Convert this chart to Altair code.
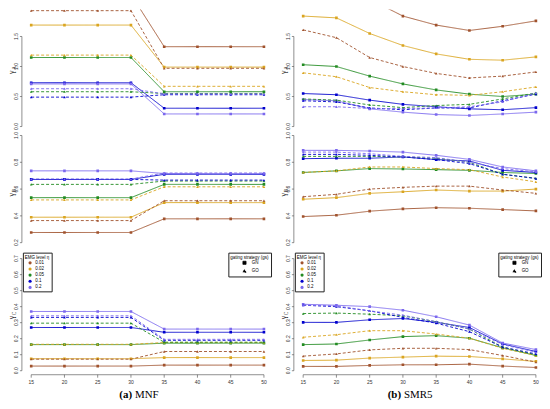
import altair as alt
import pandas as pd

X = [15, 20, 25, 30, 35, 40, 45, 50]
LEVELS = ["0.01", "0.02", "0.05", "0.1", "0.2"]
LEVEL_COLORS = ["#a0522d", "#daa520", "#228b22", "#0000cd", "#7b68ee"]
STRATEGIES = ["GN", "GO"]

# ---- (a) MNF ----  rows: EMG level 0.01, 0.02, 0.05, 0.1, 0.2
MNF_A_GN = [
    [2.20, 2.20, 2.20, 2.20, 1.33, 1.33, 1.33, 1.33],
    [1.69, 1.69, 1.69, 1.69, 0.99, 0.99, 0.99, 0.99],
    [1.15, 1.15, 1.15, 1.15, 0.58, 0.58, 0.58, 0.58],
    [0.73, 0.73, 0.73, 0.73, 0.305, 0.305, 0.305, 0.305],
    [0.71, 0.71, 0.71, 0.71, 0.21, 0.21, 0.21, 0.21],
]
MNF_A_GO = [
    [1.93, 1.93, 1.93, 1.93, 0.97, 0.97, 0.97, 0.97],
    [1.19, 1.19, 1.19, 1.19, 0.67, 0.67, 0.67, 0.67],
    [0.58, 0.58, 0.58, 0.58, 0.55, 0.55, 0.55, 0.55],
    [0.49, 0.49, 0.49, 0.49, 0.53, 0.53, 0.53, 0.53],
    [0.63, 0.63, 0.63, 0.63, 0.545, 0.545, 0.545, 0.545],
]
MNF_B_GN = [
    [0.276, 0.276, 0.276, 0.276, 0.378, 0.378, 0.378, 0.378],
    [0.39, 0.39, 0.39, 0.39, 0.499, 0.499, 0.499, 0.499],
    [0.536, 0.536, 0.536, 0.536, 0.635, 0.635, 0.635, 0.635],
    [0.672, 0.672, 0.672, 0.672, 0.71, 0.71, 0.71, 0.71],
    [0.736, 0.736, 0.736, 0.736, 0.716, 0.716, 0.716, 0.716],
]
MNF_B_GO = [
    [0.365, 0.365, 0.365, 0.365, 0.513, 0.513, 0.513, 0.513],
    [0.519, 0.519, 0.519, 0.519, 0.617, 0.617, 0.617, 0.617],
    [0.635, 0.635, 0.635, 0.635, 0.66, 0.66, 0.66, 0.66],
    [0.672, 0.672, 0.672, 0.672, 0.667, 0.667, 0.667, 0.667],
    [0.675, 0.675, 0.675, 0.675, 0.72, 0.72, 0.72, 0.72],
]
MNF_C_GN = [
    [0.029, 0.029, 0.029, 0.029, 0.035, 0.035, 0.035, 0.035],
    [0.075, 0.075, 0.075, 0.075, 0.082, 0.082, 0.082, 0.082],
    [0.163, 0.163, 0.163, 0.163, 0.172, 0.172, 0.172, 0.172],
    [0.27, 0.27, 0.27, 0.27, 0.24, 0.24, 0.24, 0.24],
    [0.37, 0.37, 0.37, 0.37, 0.26, 0.26, 0.26, 0.26],
]
MNF_C_GO = [
    [0.072, 0.072, 0.072, 0.072, 0.12, 0.12, 0.12, 0.12],
    [0.165, 0.165, 0.165, 0.165, 0.176, 0.176, 0.176, 0.176],
    [0.297, 0.297, 0.297, 0.297, 0.178, 0.178, 0.178, 0.178],
    [0.333, 0.333, 0.333, 0.333, 0.19, 0.19, 0.19, 0.19],
    [0.343, 0.343, 0.343, 0.343, 0.196, 0.196, 0.196, 0.196],
]

# ---- (b) SMR5 ----
SMR_A_GN = [
    [2.45, 2.30, 2.12, 1.84, 1.69, 1.60, 1.67, 1.76],
    [1.84, 1.81, 1.55, 1.35, 1.21, 1.12, 1.105, 1.16],
    [1.03, 1.00, 0.84, 0.71, 0.61, 0.54, 0.50, 0.54],
    [0.55, 0.53, 0.44, 0.37, 0.33, 0.295, 0.28, 0.315],
    [0.45, 0.43, 0.295, 0.24, 0.20, 0.185, 0.21, 0.24],
]
SMR_A_GO = [
    [1.61, 1.48, 1.15, 1.00, 0.885, 0.81, 0.84, 0.91],
    [0.895, 0.83, 0.65, 0.58, 0.53, 0.52, 0.58, 0.66],
    [0.46, 0.44, 0.36, 0.315, 0.35, 0.37, 0.46, 0.56],
    [0.43, 0.41, 0.31, 0.28, 0.31, 0.31, 0.43, 0.54],
    [0.33, 0.33, 0.30, 0.30, 0.31, 0.33, 0.41, 0.56],
]
SMR_B_GN = [
    [0.395, 0.405, 0.435, 0.452, 0.461, 0.457, 0.447, 0.437],
    [0.524, 0.536, 0.568, 0.58, 0.593, 0.585, 0.585, 0.60],
    [0.724, 0.736, 0.753, 0.75, 0.745, 0.74, 0.724, 0.716],
    [0.827, 0.83, 0.83, 0.84, 0.82, 0.81, 0.74, 0.724],
    [0.889, 0.889, 0.884, 0.876, 0.852, 0.822, 0.765, 0.736],
]
SMR_B_GO = [
    [0.543, 0.561, 0.60, 0.613, 0.622, 0.622, 0.593, 0.568],
    [0.724, 0.736, 0.765, 0.765, 0.753, 0.745, 0.69, 0.654],
    [0.844, 0.844, 0.844, 0.84, 0.83, 0.80, 0.71, 0.68],
    [0.859, 0.859, 0.852, 0.84, 0.82, 0.79, 0.711, 0.679],
    [0.876, 0.876, 0.864, 0.844, 0.835, 0.80, 0.753, 0.728],
]
SMR_C_GN = [
    [0.027, 0.027, 0.033, 0.037, 0.037, 0.041, 0.029, 0.020],
    [0.064, 0.066, 0.079, 0.085, 0.091, 0.089, 0.074, 0.058],
    [0.163, 0.167, 0.192, 0.213, 0.219, 0.203, 0.143, 0.095],
    [0.302, 0.302, 0.318, 0.326, 0.302, 0.27, 0.167, 0.12],
    [0.415, 0.409, 0.40, 0.378, 0.337, 0.285, 0.173, 0.132],
]
SMR_C_GO = [
    [0.091, 0.105, 0.13, 0.14, 0.14, 0.132, 0.095, 0.054],
    [0.209, 0.225, 0.25, 0.25, 0.229, 0.203, 0.14, 0.095],
    [0.357, 0.36, 0.353, 0.343, 0.306, 0.26, 0.147, 0.10],
    [0.409, 0.40, 0.374, 0.333, 0.297, 0.244, 0.147, 0.105],
    [0.409, 0.405, 0.374, 0.347, 0.306, 0.26, 0.163, 0.116],
]

Y_SUBSCRIPTS = {"A": "A", "B": "B", "C": "C"}
Y_TICKS = {
    "A": [0.0, 0.5, 1.0, 1.5],
    "B": [0.2, 0.4, 0.6, 0.8, 1.0],
    "C": [0.0, 0.1, 0.2, 0.3, 0.4, 0.5, 0.6, 0.7],
}
Y_DOMAIN = {"A": [-0.05, 1.95], "B": [0.133, 1.022], "C": [-0.025, 0.725]}
X_DOMAIN = [13.6, 50.32]
PANEL_H = {"A": 121, "B": 120, "C": 121}
PANEL_W = 246

PANELS = [
    ("MNF", "A", MNF_A_GN, MNF_A_GO),
    ("SMR5", "A", SMR_A_GN, SMR_A_GO),
    ("MNF", "B", MNF_B_GN, MNF_B_GO),
    ("SMR5", "B", SMR_B_GN, SMR_B_GO),
    ("MNF", "C", MNF_C_GN, MNF_C_GO),
    ("SMR5", "C", SMR_C_GN, SMR_C_GO),
]
CAPTIONS = {"MNF": ("(a)", "MNF", 111, 114), "SMR5": ("(b)", "SMR5", 108, 111)}

rows = []
for method, metric, gn, go in PANELS:
    for gs, block in (("GN", gn), ("GO", go)):
        for lvl, series in zip(LEVELS, block):
            for xv, v in zip(X, series):
                rows.append(dict(method=method, metric=metric, gs=gs,
                                 level=lvl, x=xv, value=v))
df = pd.DataFrame(rows)
one = pd.DataFrame({"k": [0]})
xticks_df = pd.DataFrame({"t": X, "lab": [str(v) for v in X]})

AXIS_GREY = "#444444"
LABEL_GREY = "#333333"
SANS = "Liberation Sans"
SERIF = "Liberation Serif"

# invisible axes: the R-style axes are drawn with marks below
HIDDEN_AXIS = alt.Axis(labels=False, ticks=False, domain=False, grid=False,
                       title=None)


def panel(method, metric):
    bottom = metric == "C"
    d = df[(df.method == method) & (df.metric == metric)]
    h = PANEL_H[metric]
    xs = alt.Scale(domain=X_DOMAIN, nice=False, zero=False)
    ys = alt.Scale(domain=Y_DOMAIN[metric], nice=False, zero=False)
    cscale = alt.Scale(domain=LEVELS, range=LEVEL_COLORS)
    if bottom:
        legend_x = 206 if method == "SMR5" else 208
        clegend = alt.Legend(title="EMG level η", orient="none", legendX=1,
                             legendY=-2, symbolType="circle", symbolSize=10,
                             symbolStrokeWidth=0, labelFontSize=4.5,
                             labelFont=SANS, titleFont=SANS, titleFontSize=4.5,
                             titleFontWeight="normal", strokeColor="#222222",
                             fillColor="white", padding=2, rowPadding=1.2,
                             titlePadding=1.5, labelOffset=3, symbolOffset=3)
        slegend = alt.Legend(title="gating strategy (gs)", orient="none",
                             legendX=legend_x, legendY=-2, symbolSize=10,
                             symbolFillColor="black", symbolStrokeColor="black",
                             symbolStrokeWidth=0.8, labelFontSize=4.5,
                             labelFont=SANS, titleFont=SANS, titleFontSize=4.5,
                             titleFontWeight="normal", strokeColor="#222222",
                             fillColor="white", padding=2, rowPadding=1.2,
                             titlePadding=1.5, labelOffset=5, symbolOffset=12)
    else:
        clegend = None
        slegend = None

    base = alt.Chart(d)
    enc_x = alt.X("x:Q", scale=xs, axis=HIDDEN_AXIS)
    enc_y = alt.Y("value:Q", scale=ys, axis=HIDDEN_AXIS)
    lines = base.mark_line(strokeWidth=0.9, clip=True).encode(
        x=enc_x, y=enc_y,
        color=alt.Color("level:N", scale=cscale, legend=clegend),
        strokeDash=alt.StrokeDash("gs:N", scale=alt.Scale(
            domain=STRATEGIES, range=[[1, 0], [3, 2]]), legend=slegend),
    )
    pts = base.mark_point(filled=True, size=7, opacity=1, clip=True).encode(
        x=enc_x, y=enc_y,
        color=alt.Color("level:N", scale=cscale, legend=clegend),
        shape=alt.Shape("gs:N", scale=alt.Scale(
            domain=STRATEGIES, range=["square", "triangle-up"]), legend=slegend),
    )

    # R-style y axis: line between first and last tick, small ticks, rotated labels
    yt = pd.DataFrame({"t": Y_TICKS[metric],
                       "lab": [f"{t:.1f}" for t in Y_TICKS[metric]]})
    yrule = alt.Chart(one).mark_rule(color=AXIS_GREY, strokeWidth=0.6).encode(
        x=alt.value(0),
        y=alt.datum(Y_TICKS[metric][0]),
        y2=alt.datum(Y_TICKS[metric][-1]),
    )
    ytick = alt.Chart(yt).mark_rule(color=AXIS_GREY, strokeWidth=0.6).encode(
        y=alt.Y("t:Q", scale=ys, axis=HIDDEN_AXIS),
        x=alt.value(-2), x2=alt.value(0),
    )
    ylab = alt.Chart(yt).mark_text(
        angle=270, align="center", baseline="bottom", fontSize=5,
        font=SANS, color=LABEL_GREY).encode(
        y=alt.Y("t:Q", scale=ys, axis=HIDDEN_AXIS), x=alt.value(-3),
        text=alt.Text("lab:N"))
    ytitle1 = alt.Chart(one).mark_text(
        text="γ", angle=270, align="right", baseline="middle", fontSize=8,
        font=SERIF, color="#222222").encode(
        x=alt.value(-9.5), y=alt.value(h / 2 + 1))
    ytitle2 = alt.Chart(one).mark_text(
        text=Y_SUBSCRIPTS[metric], angle=270, align="left", baseline="middle",
        fontSize=5.5, font=SERIF, color="#222222").encode(
        x=alt.value(-8), y=alt.value(h / 2 + 0.5))
    layers = [lines, pts, yrule, ytick, ylab, ytitle1, ytitle2]
    if bottom:
        xrule = alt.Chart(one).mark_rule(color=AXIS_GREY, strokeWidth=0.6).encode(
            y=alt.value(h),
            x=alt.datum(X[0]),
            x2=alt.datum(X[-1]),
        )
        xtick = alt.Chart(xticks_df).mark_rule(
            color=AXIS_GREY, strokeWidth=0.6).encode(
            x=alt.X("t:Q", scale=xs, axis=HIDDEN_AXIS),
            y=alt.value(h), y2=alt.value(h + 3),
        )
        xlab = alt.Chart(xticks_df).mark_text(
            align="center", baseline="top", fontSize=5, font=SANS,
            color=LABEL_GREY).encode(
            x=alt.X("t:Q", scale=xs, axis=HIDDEN_AXIS), y=alt.value(h + 5),
            text=alt.Text("lab:N"))
        lab, name, px1, px2 = CAPTIONS[method]
        cap1 = alt.Chart(one).mark_text(
            text=lab, font=SERIF, fontSize=11, fontWeight="bold",
            align="right", baseline="alphabetic", color="black").encode(
            x=alt.value(px1), y=alt.value(h + 23))
        cap2 = alt.Chart(one).mark_text(
            text=name, font=SERIF, fontSize=11, fontWeight="normal",
            align="left", baseline="alphabetic", color="black").encode(
            x=alt.value(px2), y=alt.value(h + 23))
        layers += [xrule, xtick, xlab, cap1, cap2]
    return alt.layer(*layers).properties(width=PANEL_W, height=h)


charts = [panel(m, k) for m, k, _, _ in PANELS]

chart = alt.concat(
    *charts, columns=2, spacing={"row": 3, "column": 28}, bounds="flush"
).resolve_scale(
    x="independent", y="independent", color="independent",
    shape="independent", strokeDash="independent"
).resolve_legend(
    color="independent", shape="independent", strokeDash="independent"
).properties(
    padding={"left": 0, "top": 0, "right": 0, "bottom": 0},
    background="white",
).configure_view(stroke=None)

chart.save("out.html", embed_options={"renderer": "svg", "actions": False})
